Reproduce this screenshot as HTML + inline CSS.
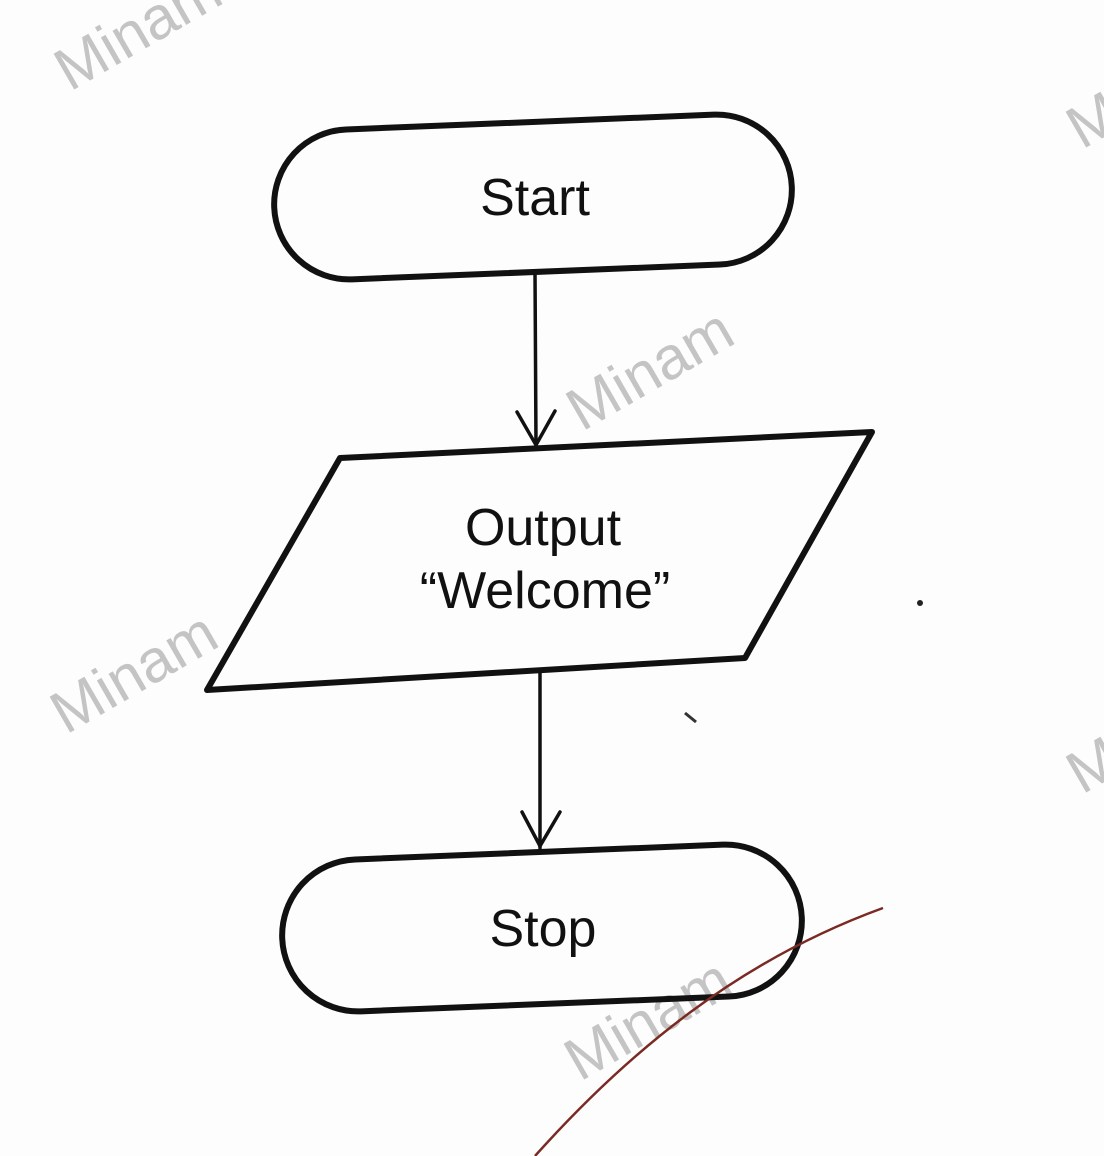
<!DOCTYPE html>
<html><head><style>
html,body{margin:0;padding:0;background:#fdfdfd;}
svg{display:block;}
</style></head><body>
<svg width="1104" height="1156" viewBox="0 0 1104 1156" xmlns="http://www.w3.org/2000/svg">
<rect width="1104" height="1156" fill="#fdfdfd"/>
<g font-family="Liberation Sans, sans-serif" fill="#c4c4c4" font-size="60">
<text transform="translate(70,92) rotate(-30)">Minam</text>
<text transform="translate(582,432) rotate(-30)">Minam</text>
<text transform="translate(66,735) rotate(-30)">Minam</text>
<text transform="translate(580,1082) rotate(-30)">Minam</text>
<text transform="translate(1082,150) rotate(-30)">M</text>
<text transform="translate(1082,795) rotate(-30)">M</text>
</g>
<g fill="none" stroke="#111" stroke-width="6" stroke-linejoin="round">
<rect x="274" y="122" width="518" height="150" rx="75" transform="rotate(-2.3 533 197)"/>
<polygon points="340,458 872,432 745,658 207,690"/>
<rect x="282" y="852" width="520" height="152" rx="76" transform="rotate(-2.3 542 928)"/>
</g>
<g fill="none" stroke="#111" stroke-width="3.5" stroke-linecap="round">
<line x1="535" y1="272" x2="536" y2="445"/>
<polyline points="517,412 536,445 555,411"/>
<line x1="540" y1="672" x2="540" y2="848"/>
<polyline points="522,812 540,846 560,812"/>
</g>
<path d="M535,1156 C630,1050 740,960 883,908" fill="none" stroke="#7a2a22" stroke-width="2.5"/>
<g font-family="Liberation Sans, sans-serif" fill="#111" font-size="52" text-anchor="middle">
<text x="535" y="215">Start</text>
<text x="543" y="545">Output</text>
<text x="545" y="608">“Welcome”</text>
<text x="543" y="946">Stop</text>
</g>
<circle cx="920" cy="603" r="3" fill="#222"/>
<path d="M685,713 L696,722" stroke="#333" stroke-width="3"/>
</svg>
</body></html>
